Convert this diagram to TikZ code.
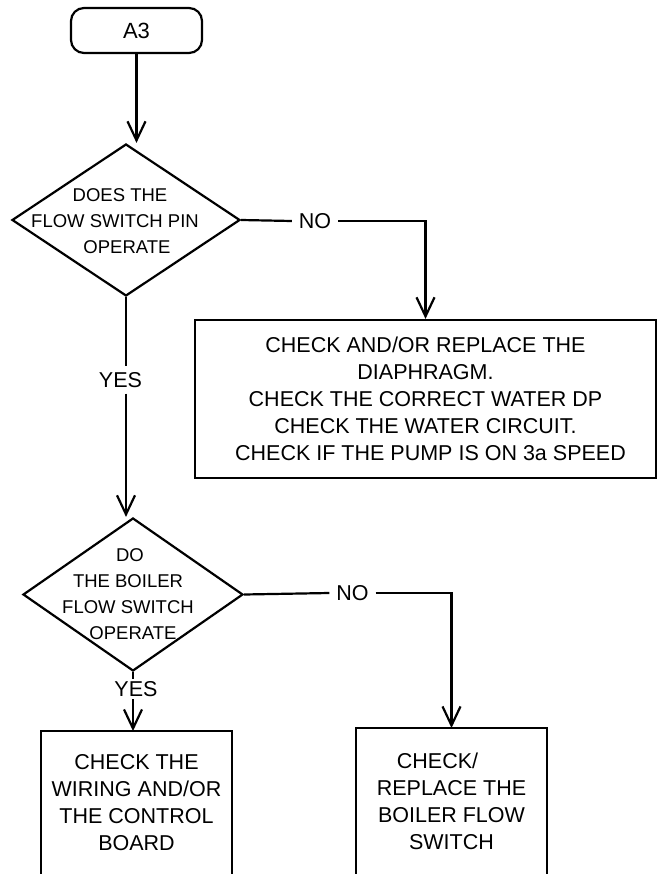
\documentclass[tikz,border=0pt]{standalone}
\usepackage{fontspec}
\setmainfont{Liberation Sans}
\usetikzlibrary{shapes.geometric,arrows.meta}
\begin{document}
\begin{tikzpicture}[x=1pt,y=-1pt,
  line width=2.2pt,
  arr/.style={-{Straight Barb[length=19pt,width=18pt]}},
  boxtxt/.style={font=\fontsize{21.5}{27}\selectfont, align=center},
  dtxt/.style={font=\fontsize{18.5}{26}\selectfont, align=center, inner sep=0pt},
  lbl/.style={font=\fontsize{21.5}{26}\selectfont, inner xsep=6pt, inner ysep=5pt},
  dia/.style={draw, diamond, inner sep=0pt},
  openbox/.style={inner sep=0pt, outer sep=0pt, font=\fontsize{21.5}{27}\selectfont, align=center}
]
\useasboundingbox (0,0) rectangle (657,874);

% start terminal
\node[draw, rounded corners=13pt, minimum width=131pt, minimum height=45pt, font=\fontsize{22}{26}\selectfont] (a3) at (136.5,30.5) {A3};

% decision 1
\node[dia, minimum width=228pt, minimum height=152pt] (d1) at (126,220) {};
\node[dtxt] (t1) at (115,221) {\hspace*{10pt}DOES THE\\FLOW SWITCH PIN\\\hspace*{24pt}OPERATE};
\node[lbl] (no1) at (315,221) {NO};
\node[lbl] (yes1) at (120.5,380) {YES};

% action box 1
\node[draw, boxtxt, minimum width=461pt, minimum height=158pt] (box1) at (425.5,399)
  {CHECK AND/OR REPLACE THE\\DIAPHRAGM.\\CHECK THE CORRECT WATER DP\\CHECK THE WATER CIRCUIT.\\\hspace*{10pt}CHECK IF THE PUMP IS ON 3a SPEED};

% decision 2
\node[dia, minimum width=220pt, minimum height=153pt] (d2) at (133,594.5) {};
\node[dtxt] (t2) at (128,594) {\hspace*{4pt}DO\\THE BOILER\\FLOW SWITCH\\\hspace*{10pt}OPERATE};
\node[lbl] (no2) at (352.5,593) {NO};
\node[lbl, inner ysep=1.5pt] (yes2) at (136,689) {YES};

% bottom boxes (open at the bottom)
\node[openbox, minimum width=191pt, minimum height=143pt] (b2) at (136.5,802.5)
  {CHECK THE\\WIRING AND/OR\\THE CONTROL\\BOARD};
\node[openbox, minimum width=191pt, minimum height=146pt] (b3) at (451.5,801)
  {CHECK/\hspace*{28pt}\\REPLACE THE\\BOILER FLOW\\SWITCH};
\draw (b2.south west) -- (b2.north west) -- (b2.north east) -- (b2.south east);
\draw (b3.south west) -- (b3.north west) -- (b3.north east) -- (b3.south east);

% connectors
\draw[arr] (a3.south) -- (a3.south |- d1.north);
\draw (d1.east) -- (no1.west);
\draw[arr] (no1.east) -| (box1.north);
\draw (d1.south) -- (d1.south |- yes1.north);
\draw[arr] (d1.south |- yes1.south) -- (d1.south |- d2.north);
\draw (d2.east) -- (no2.west);
\draw[arr] (no2.east) -| (b3.north);
\draw (d2.south) -- (d2.south |- yes2.north);
\draw[arr] (d2.south |- yes2.south) -- (d2.south |- b2.north);
\end{tikzpicture}
\end{document}
